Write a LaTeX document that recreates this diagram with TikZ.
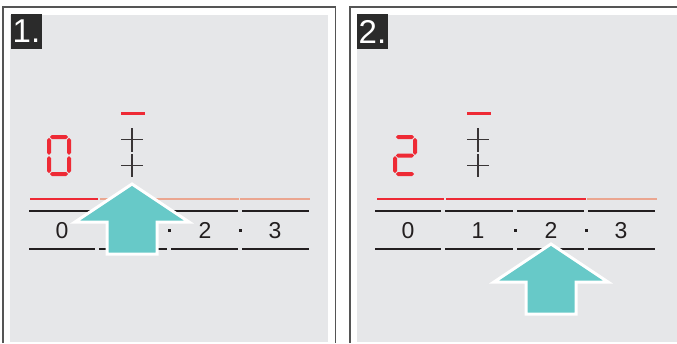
\documentclass[tikz,border=0pt]{standalone}
\usepackage{fontspec}
\setmainfont{Liberation Sans}
\definecolor{panelgray}{HTML}{E6E7E9}
\definecolor{framegray}{HTML}{555555}
\definecolor{segred}{HTML}{EE2A35}
\definecolor{salmon}{HTML}{EBA690}
\definecolor{teal}{HTML}{67C9C8}
\definecolor{inkblack}{HTML}{231F20}
\definecolor{labelbg}{HTML}{2B2B2B}
\newcommand\hseg[3]{\fill[segred] (#1,#3) -- ({#1+2},{#3-2}) -- ({#2-2},{#3-2}) -- (#2,#3) -- ({#2-2},{#3+2}) -- ({#1+2},{#3+2}) -- cycle;}
\newcommand\vseg[3]{\fill[segred] (#1,#2) -- ({#1+2},{#2+2}) -- ({#1+2},{#3-2}) -- (#1,#3) -- ({#1-2},{#3-2}) -- ({#1-2},{#2+2}) -- cycle;}
\newcommand\bigarrow[2]{\filldraw[arrowstyle] (#1,#2) -- ({#1+57},{#2+38}) -- ({#1+25},{#2+38}) -- ({#1+25},{#2+70}) -- ({#1-25},{#2+70}) -- ({#1-25},{#2+38}) -- ({#1-57},{#2+38}) -- cycle;}
\tikzset{
  frame/.style={draw=framegray, line width=1.5pt},
  barseg/.style={line width=2.8pt},
  blackline/.style={draw=inkblack, line width=2pt},
  crossline/.style={draw=inkblack!90, line width=1.6pt},
  numlabel/.style={anchor=base, inner sep=0pt, text=inkblack, font=\fontsize{23}{23}\selectfont},
  steplabel/.style={fill=labelbg, text=white, minimum width=31pt, minimum height=35pt, inner sep=0pt, font=\fontsize{33}{33}\selectfont},
  arrowstyle/.style={fill=teal, draw=white, line width=3pt, line join=miter},
  dotmark/.style={fill=inkblack}
}
\begin{document}
\begin{tikzpicture}[x=1pt,y=-1pt]
\useasboundingbox (0,0) rectangle (677,343);
\fill[white] (0,0) rectangle (677,343);
% frames
\fill[panelgray] (10,15) rectangle (328,342);
\fill[panelgray] (357,15) rectangle (677,342);
\draw[frame] (3,343) -- (3,7) -- (335.5,7) -- (335.5,343);
\draw[frame] (350,343) -- (350,7) -- (680,7);
% ---------- panel 1 ----------
\node[steplabel] (lab1) at (26.5,31.5) {1.};
\draw[segred, line width=3pt] (121,113) -- (145,113);
\draw[crossline] (121,139.5) -- (143,139.5) (132,128) -- (132,152);
\draw[crossline] (121,165.5) -- (143,165.5) (132,154) -- (132,177);
% digit 0
\hseg{49.8}{68.2}{137}
\hseg{49.8}{68.2}{174}
\vseg{49}{137.8}{154.8}
\vseg{49}{156.2}{173.2}
\vseg{69}{137.8}{154.8}
\vseg{69}{156.2}{173.2}
% bar
\draw[barseg, segred] (30,199) -- (98,199);
\draw[barseg, salmon] (99.5,199) -- (238.5,199);
\draw[barseg, salmon] (240,199) -- (310,199);
% scale lines
\foreach \a/\b in {29/95, 99/167, 171/238, 242/309}{
  \draw[blackline] (\a,211) -- (\b,211);
  \draw[blackline] (\a,249) -- (\b,249);
}
\node[numlabel] (p1n0) at (62,238) {0};
\node[numlabel] (p1n2) at (205,238) {2};
\node[numlabel] (p1n3) at (275,238) {3};
\fill[dotmark] (167.5,228.5) rectangle (170.5,231.5);
\fill[dotmark] (238.5,228.5) rectangle (241.5,231.5);
\bigarrow{132}{184}
% ---------- panel 2 ----------
\begin{scope}[xshift=346pt]
\node[steplabel] (lab2) at (26.5,31.5) {2.};
\draw[segred, line width=3pt] (121,113) -- (145,113);
\draw[crossline] (121,139.5) -- (143,139.5) (132,128) -- (132,152);
\draw[crossline] (121,165.5) -- (143,165.5) (132,154) -- (132,177);
% digit 2
\hseg{49.8}{68.2}{137}
\vseg{69}{137.8}{154.8}
\hseg{49.8}{68.2}{155.5}
\vseg{49}{156.2}{173.2}
\hseg{49.8}{68.2}{174}
% bar
\draw[barseg, segred] (31,199) -- (98,199);
\draw[barseg, segred] (100,199) -- (240,199);
\draw[barseg, salmon] (241,199) -- (311,199);
\foreach \a/\b in {29/95, 99/167, 171/238, 242/309}{
  \draw[blackline] (\a,211) -- (\b,211);
  \draw[blackline] (\a,249) -- (\b,249);
}
\node[numlabel] (p2n0) at (62,238) {0};
\node[numlabel] (p2n1) at (132,238) {1};
\node[numlabel] (p2n2) at (205,238) {2};
\node[numlabel] (p2n3) at (275,238) {3};
\fill[dotmark] (167.5,228.5) rectangle (170.5,231.5);
\fill[dotmark] (238.5,228.5) rectangle (241.5,231.5);
\bigarrow{205}{244}
\end{scope}
\end{tikzpicture}
\end{document}
